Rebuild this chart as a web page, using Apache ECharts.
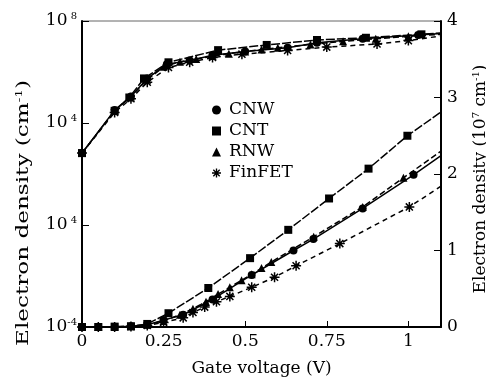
<!DOCTYPE html>
<html><head><meta charset="utf-8">
<script src="https://cdn.jsdelivr.net/npm/echarts@6/dist/echarts.min.js"></script>
<style>html,body{margin:0;padding:0;background:#fff}#c{width:486px;height:380px}</style>
</head><body><div id="c"></div>
<script>
// ---- data ----
const seriesNames = ['CNW', 'CNT', 'RNW', 'FinFET'];
const xTickValues = [0, 0.25, 0.5, 0.75, 1];
const xTickLabels = ['0', '0.25', '0.5', '0.75', '1'];
const leftTickValues = [1e-4, 1, 1e4, 1e8];
const leftTickExps = ['-4', '4', '4', '8'];
const rightTickLabels = ['0', '1', '2', '3', '4'];
const xTitle = 'Gate voltage (V)';

// log panel (left axis, cm^-1)
const cnwLogX = [0, 0.1, 0.15, 0.2, 0.26, 0.33, 0.4, 0.5, 0.63, 0.72, 0.86, 1.03, 1.1];
const cnwLogY = [660, 3.2e4, 1.1e5, 5.6e5, 2.0e6, 2.8e6, 4.5e6, 6.3e6, 8.9e6, 1.4e7, 2.0e7, 2.8e7, 3.2e7];
const cntLogX = [0, 0.1, 0.145, 0.19, 0.265, 0.417, 0.566, 0.72, 0.87, 1.04, 1.1];
const cntLogY = [660, 3.0e4, 1.0e5, 5.6e5, 2.4e6, 7.2e6, 1.15e7, 1.8e7, 2.2e7, 3.0e7, 3.4e7];
const rnwLogX = [0, 0.1, 0.15, 0.2, 0.25, 0.3, 0.35, 0.4, 0.45, 0.5, 0.55, 0.6, 0.7, 0.8, 0.9, 1.0, 1.1];
const rnwLogY = [660, 3.0e4, 1.1e5, 5.0e5, 1.6e6, 2.5e6, 3.2e6, 4.2e6, 5.2e6, 6.3e6, 7.6e6, 8.9e6, 1.2e7, 1.6e7, 2.0e7, 2.5e7, 3.0e7];
const finLogX = [0, 0.1, 0.15, 0.2, 0.265, 0.33, 0.4, 0.49, 0.63, 0.75, 0.904, 1.0, 1.1];
const finLogY = [660, 2.6e4, 8.9e4, 4.0e5, 1.5e6, 2.4e6, 3.7e6, 5.0e6, 7.0e6, 9.5e6, 1.25e7, 1.7e7, 2.6e7];

// linear panel (right axis, 10^7 cm^-1)
const cnwLinX = [0, 0.05, 0.1, 0.15, 0.2, 0.25, 0.31, 0.40, 0.52, 0.648, 0.709, 0.86, 1.016, 1.1];
const cnwLinY = [0, 0, 0, 0.01, 0.03, 0.09, 0.16, 0.36, 0.68, 1.00, 1.15, 1.55, 1.99, 2.24];
const cntLinX = [0, 0.05, 0.1, 0.15, 0.2, 0.265, 0.387, 0.515, 0.632, 0.757, 0.878, 0.997, 1.1];
const cntLinY = [0, 0, 0.005, 0.01, 0.04, 0.18, 0.51, 0.90, 1.27, 1.68, 2.07, 2.50, 2.81];
const rnwLinX = [0, 0.05, 0.1, 0.15, 0.2, 0.25, 0.3, 0.34, 0.38, 0.417, 0.453, 0.489, 0.52, 0.55, 0.58, 0.71, 0.86, 0.985, 1.1];
const rnwLinY = [0, 0, 0, 0.01, 0.03, 0.08, 0.16, 0.24, 0.33, 0.43, 0.52, 0.61, 0.69, 0.77, 0.85, 1.18, 1.57, 1.95, 2.30];
const finLinX = [0, 0.05, 0.1, 0.15, 0.2, 0.25, 0.31, 0.34, 0.376, 0.412, 0.453, 0.52, 0.59, 0.656, 0.79, 1.003, 1.1];
const finLinY = [0, 0, 0, 0.005, 0.02, 0.06, 0.12, 0.19, 0.26, 0.33, 0.40, 0.52, 0.65, 0.80, 1.09, 1.57, 1.84];

// ---- styling ----
const FONT = "'DejaVu Serif','Liberation Serif',serif";
const FS = 17;
const XMAX = 1.1;
const ASTERISK = 'path://M-0.15,-1L0.15,-1L0.15,1L-0.15,1Z M-1,-0.15L1,-0.15L1,0.15L-1,0.15Z M0.601,0.813L-0.813,-0.601L-0.601,-0.813L0.813,0.601Z M-0.813,0.601L0.601,-0.813L0.813,-0.601L-0.601,0.813Z';
const styles = {
  CNW: {symbol: 'circle', size: 8, dash: 'solid'},
  CNT: {symbol: 'rect', size: 8, dash: [9, 2]},
  RNW: {symbol: 'triangle', size: 8, dash: [6, 3]},
  FinFET: {symbol: ASTERISK, size: 10, dash: [5, 4]}
};

function pts(xs, ys) {
  return xs.map((x, i) => x >= XMAX ? {value: [x, ys[i]], symbol: 'none'} : [x, ys[i]]);
}
function mk(name, xs, ys, yIdx) {
  const s = styles[name];
  return {
    name, type: 'line', yAxisIndex: yIdx, data: pts(xs, ys),
    symbol: s.symbol, symbolSize: s.size, showSymbol: true,
    itemStyle: {color: '#000'},
    lineStyle: {color: '#000', width: 1.5, type: s.dash},
    animation: false, z: 3
  };
}
const series = [
  mk('CNW', cnwLogX, cnwLogY, 0), mk('CNT', cntLogX, cntLogY, 0),
  mk('RNW', rnwLogX, rnwLogY, 0), mk('FinFET', finLogX, finLogY, 0),
  mk('CNW', cnwLinX, cnwLinY, 1), mk('CNT', cntLinX, cntLinY, 1),
  mk('RNW', rnwLinX, rnwLinY, 1), mk('FinFET', finLinX, finLinY, 1)
];

const supRich = {
  t: {color: '#000', fontFamily: FONT, fontSize: FS},
  s: {color: '#000', fontFamily: FONT, fontSize: 10, padding: [0, 0, 9, 0]}
};

const chart = echarts.init(document.getElementById('c'), null, {renderer: 'canvas'});
const axisLbl = {color: '#000', fontFamily: FONT, fontSize: FS};
chart.setOption({
  backgroundColor: '#fff',
  animation: false,
  grid: {left: 82, right: 45, top: 21, bottom: 53, outerBoundsMode: 'none', containLabel: false,
    show: true, borderColor: '#666', borderWidth: 1, backgroundColor: 'transparent'},
  legend: {
    orient: 'vertical', left: 212, top: 101, padding: 0, itemWidth: 9, itemHeight: 9, itemGap: 3,
    data: seriesNames.map(n => ({name: n, icon: styles[n].symbol})),
    itemStyle: {color: '#000'},
    textStyle: {color: '#000', fontFamily: FONT, fontSize: FS, lineHeight: 18, padding: [0, 0, 0, 3]},
    selectedMode: false
  },
  graphic: [{
    type: 'text', x: 24, y: 213, rotation: Math.PI / 2, scaleX: 1.36,
    style: {text: '{t|Electron density (cm}{s|-1}{t|)}', rich: supRich, align: 'center', verticalAlign: 'middle'}
  }],
  xAxis: {
    type: 'value', min: 0, max: XMAX, interval: 0.25,
    name: xTitle, nameLocation: 'middle', nameGap: 33,
    nameTextStyle: {color: '#000', fontFamily: FONT, fontSize: FS},
    axisLine: {lineStyle: {color: '#000', width: 2}},
    axisTick: {inside: true, length: 6, lineStyle: {color: '#000'}, customValues: xTickValues},
    axisLabel: Object.assign({margin: 6, customValues: xTickValues,
      formatter: v => { const i = xTickValues.findIndex(t => Math.abs(t - v) < 1e-6); return i >= 0 ? xTickLabels[i] : ''; }}, axisLbl),
    splitLine: {show: false}
  },
  yAxis: [{
    type: 'log', logBase: 10, min: 1e-4, max: 1e8, position: 'left',
    axisLine: {show: true, lineStyle: {color: '#000', width: 2}},
    axisTick: {inside: true, length: 7, lineStyle: {color: '#000'}, customValues: leftTickValues},
    axisLabel: {margin: 5, customValues: leftTickValues,
      formatter: v => { const i = leftTickValues.findIndex(t => Math.abs(Math.log10(t) - Math.log10(v)) < 1e-6); return i >= 0 ? '{t|10}{s|' + (leftTickExps[i].startsWith('-') ? '' : ' ') + leftTickExps[i] + '}' : ''; },
      rich: supRich},
    splitLine: {show: false}
  }, {
    type: 'value', min: 0, max: 4, interval: 1, position: 'right',
    name: '{t|Electron density (10}{s|7}{t| cm}{s|-1}{t|)}', nameLocation: 'middle', nameRotate: 90, nameGap: 30,
    nameTextStyle: {padding: [0, 10, 0, 0], rich: supRich},
    axisLine: {show: true, lineStyle: {color: '#000', width: 2}},
    axisTick: {inside: true, length: 7, lineStyle: {color: '#000'}},
    axisLabel: Object.assign({margin: 6, formatter: v => rightTickLabels[Math.round(v)] ?? ''}, axisLbl),
    splitLine: {show: false}
  }],
  series
});
</script></body></html>
